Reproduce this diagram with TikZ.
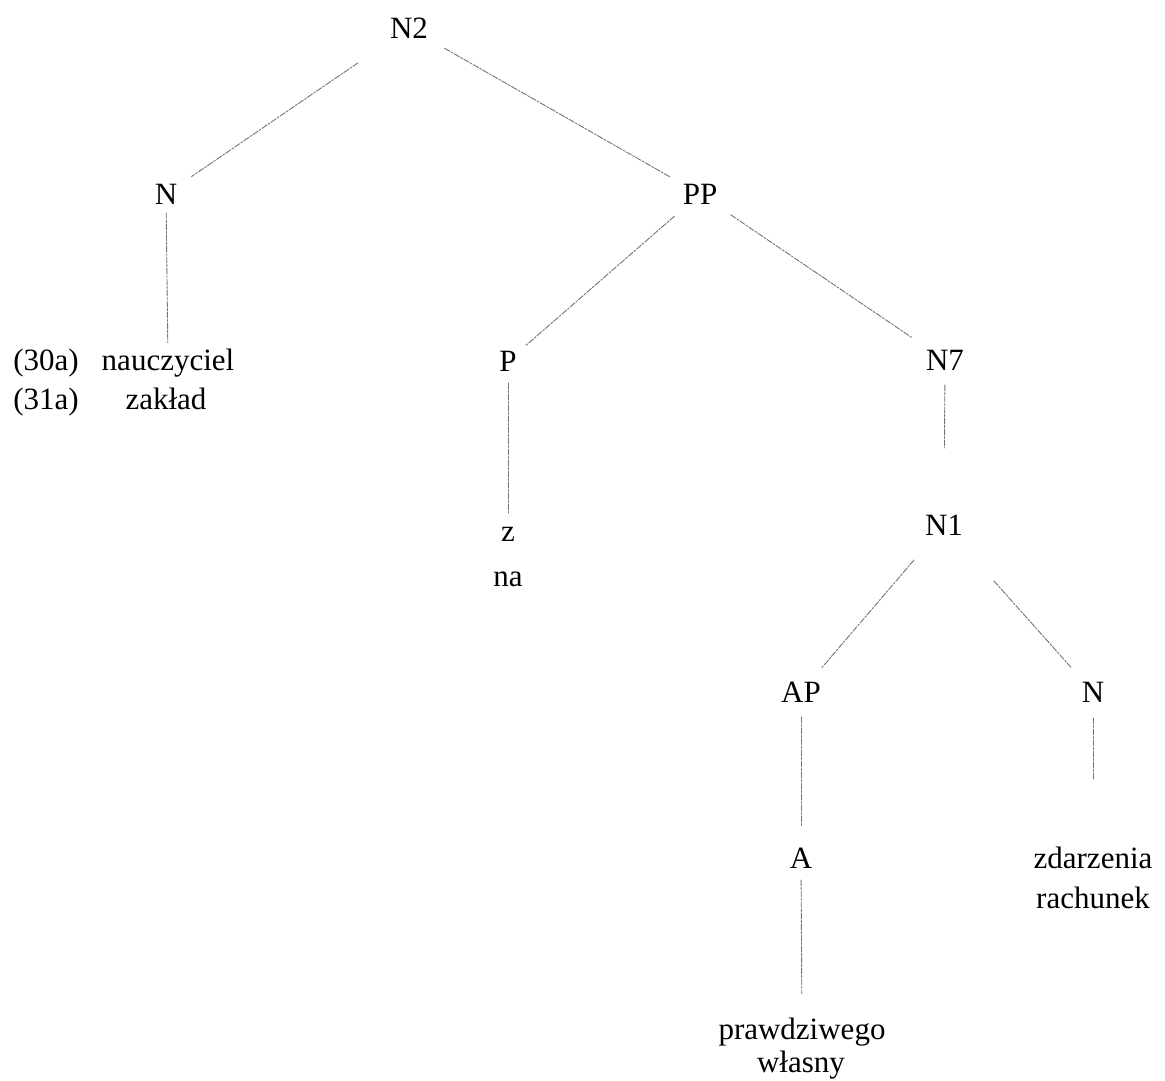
\documentclass[tikz,border=0pt]{standalone}
\usepackage{fontspec}
\setmainfont{Liberation Serif}
\usetikzlibrary{calc}
\begin{document}
\begin{tikzpicture}[x=1pt, y=-1pt,
  cat/.style={inner sep=0pt, font=\fontsize{31}{37}\selectfont},
  word/.style={inner sep=0pt, anchor=base, font=\fontsize{31}{37}\selectfont},
  edge/.style={draw=black!55, line width=0.9pt, line cap=round,
               dash pattern=on 6pt off 1.5pt on 2pt off 1.5pt}]
  % canvas
  \fill[white] (0,0) rectangle (1165,1081);
  \useasboundingbox (0,0) rectangle (1165,1081);

  % category labels
  \node[cat] (N2)  at (409,28)  {N2};
  \node[cat] (N)   at (166,194) {N};
  \node[cat] (PP)  at (700,194) {PP};
  \node[cat] (P)   at (508,361) {P};
  \node[cat] (N7)  at (945,360) {N7};
  \node[cat] (N1)  at (944,525) {N1};
  \node[cat] (AP)  at (801,692) {AP};
  \node[cat] (Nr)  at (1093,692) {N};
  \node[cat] (A)   at (801,858) {A};

  % example numbers and word forms
  \node[word] (ex30) at (46,370)  {(30a)};
  \node[word] (ex31) at (46,409)  {(31a)};
  \node[word] (nauczyciel) at (168,370) {nauczyciel};
  \node[word] (zaklad)     at (166,409) {zakład};
  \node[word] (z)          at (508,541) {z};
  \node[word] (na)         at (508,586) {na};
  \node[word] (zdarzenia)  at (1093,868) {zdarzenia};
  \node[word] (rachunek)   at (1093,908) {rachunek};
  \node[word] (prawdziwego) at (802,1039) {prawdziwego};
  \node[word] (wlasny)     at (801,1072) {własny};

  % branches
  \draw[edge] ($(N2)!62pt!(N)$)   -- ($(N)!31pt!(N2)$);
  \draw[edge] ($(N2)!41pt!(PP)$)  -- ($(PP)!35pt!(N2)$);
  \draw[edge] ($(PP)!34pt!(P)$)   -- ($(P)!24pt!(PP)$);
  \draw[edge] ($(PP)!37pt!(N7)$)  -- ($(N7)!39pt!(PP)$);
  \draw[edge] ($(N)!19pt!(nauczyciel)$) -- ($(nauczyciel)!20pt!(N)$);
  \draw[edge] ($(P)!22pt!(z)$)    -- ($(z)!21pt!(P)$);
  \draw[edge] ($(N7)!25pt!(N1)$)  -- ($(N1)!77pt!(N7)$);
  \draw[edge] ($(N1)!46pt!(AP)$)  -- ($(AP)!32pt!(N1)$);
  \draw[edge] ($(N1)!75pt!(Nr)$)  -- ($(Nr)!33pt!(N1)$);
  \draw[edge] ($(AP)!25pt!(A)$)   -- ($(A)!31pt!(AP)$);
  \draw[edge] ($(Nr)!26pt!(zdarzenia)$) -- ($(zdarzenia)!78pt!(Nr)$);
  \draw[edge] ($(A)!22pt!(prawdziwego)$) -- ($(prawdziwego)!38pt!(A)$);
\end{tikzpicture}
\end{document}
